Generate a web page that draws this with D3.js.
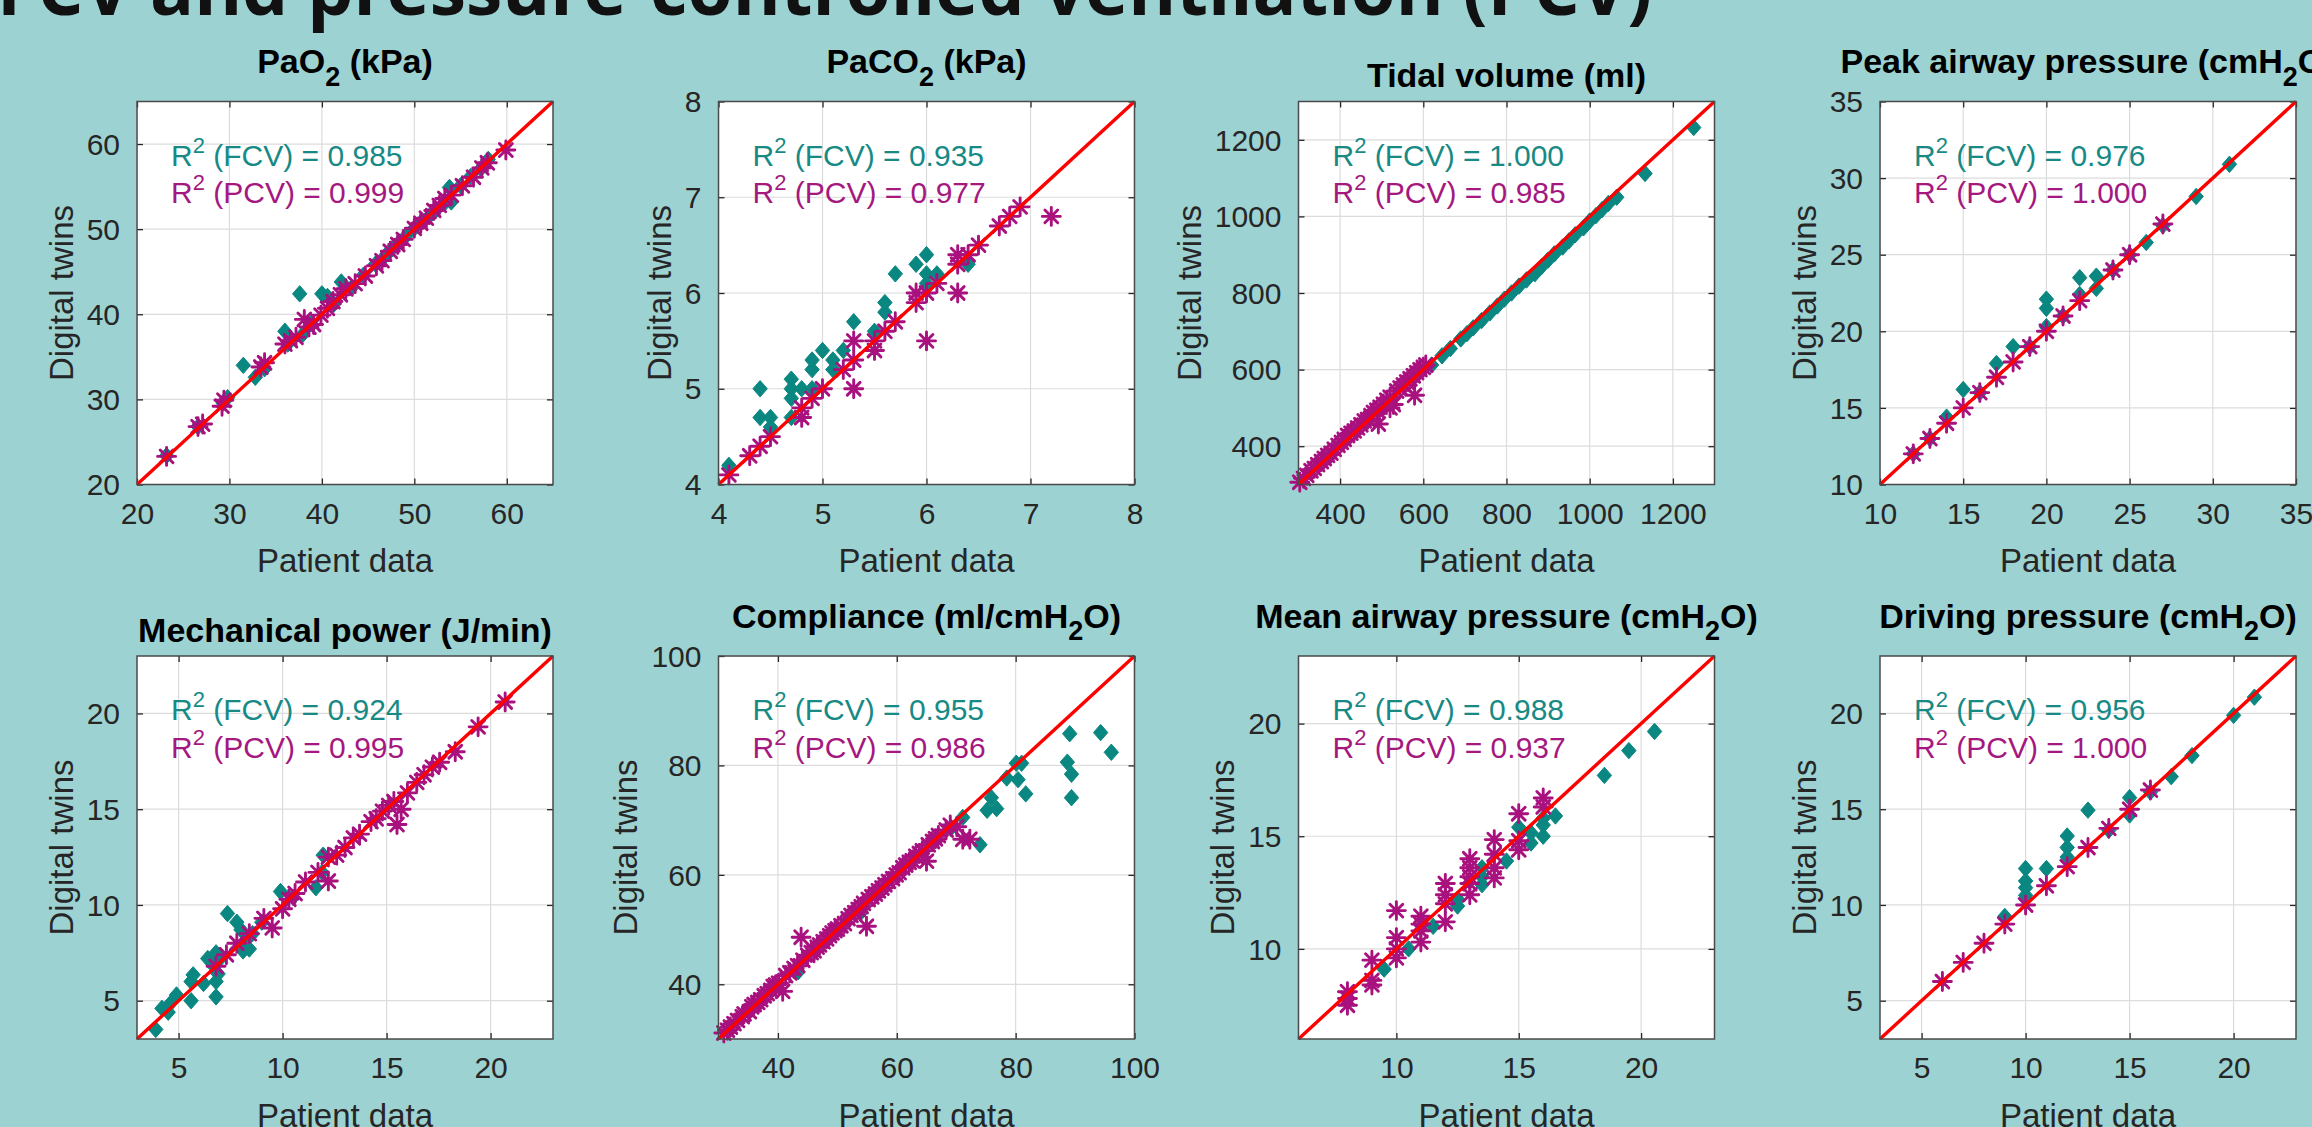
<!DOCTYPE html>
<html>
<head>
<meta charset="utf-8">
<script src="https://cdn.jsdelivr.net/npm/d3@7"></script>
<style>
  html, body { margin: 0; padding: 0; background: #9dd2d3; overflow: hidden; }
  svg { display: block; }
</style>
</head>
<body>
<svg id="fig" width="2312" height="1127"></svg>
<script>
// ---------- panel metadata ----------
// "_2" marks a subscript character in a title
const panelTitles = [
  "PaO_2 (kPa)", "PaCO_2 (kPa)", "Tidal volume (ml)", "Peak airway pressure (cmH_2O)",
  "Mechanical power (J/min)", "Compliance (ml/cmH_2O)", "Mean airway pressure (cmH_2O)", "Driving pressure (cmH_2O)"
];
const axisDomains = [[20, 65], [4, 8], [300, 1300], [10, 35], [3, 23], [30, 100], [6, 23], [3, 23]];
const tickValues = [
  [20, 30, 40, 50, 60], [4, 5, 6, 7, 8], [400, 600, 800, 1000, 1200], [10, 15, 20, 25, 30, 35],
  [5, 10, 15, 20], [40, 60, 80, 100], [10, 15, 20], [5, 10, 15, 20]
];
const r2FCV = ["0.985", "0.935", "1.000", "0.976", "0.924", "0.955", "0.988", "0.956"];
const r2PCV = ["0.999", "0.977", "0.985", "1.000", "0.995", "0.986", "0.937", "1.000"];

// ---------- series: [patient data, digital twin] ----------
const pao2FCV = [[23.2,23.4],[26.6,26.8],[29.3,29.6],[29.8,30.2],[31.5,34.0],[32.8,32.6],[33.8,33.6],[36.0,38.0],[36.3,36.5],[37.6,42.4],[37.9,37.6],[38.8,38.9],[40.0,42.4],[40.6,42.1],[41.3,41.2],[42.1,43.8],[43.2,43.1],[44.5,44.6],[45.8,45.9],[46.8,46.8],[47.6,47.7],[48.4,48.5],[49.2,49.3],[50.0,50.1],[50.8,50.9],[51.6,51.5],[52.4,52.3],[53.3,53.1],[53.8,54.9],[54.0,53.2],[55.0,55.1],[56.1,56.2],[57.2,57.1],[58.0,58.2]];
const pao2PCV = [[23.2,23.3],[26.6,26.8],[27.1,27.1],[29.2,29.2],[29.4,29.9],[33.4,33.8],[33.8,34.3],[36.0,36.5],[36.6,36.9],[37.2,37.3],[38.1,39.4],[38.6,38.5],[39.1,38.8],[39.9,39.9],[40.6,40.7],[41.2,41.5],[42.0,42.3],[42.6,43.0],[43.6,43.6],[44.7,44.5],[45.9,45.7],[46.5,46.3],[47.4,47.4],[48.2,48.2],[48.8,48.8],[50.0,50.1],[50.7,50.7],[51.3,51.3],[52.1,52.2],[52.7,52.8],[53.3,53.6],[54.0,54.0],[55.2,55.1],[56.4,56.1],[57.3,57.2],[57.9,57.8],[59.9,59.3]];

const paco2FCV = [[4.1,4.2],[4.4,5.0],[4.4,4.7],[4.5,4.7],[4.5,4.6],[4.7,4.7],[4.7,5.1],[4.7,5.0],[4.7,4.9],[4.8,5.0],[4.9,5.0],[4.9,5.2],[4.9,5.3],[5.0,5.4],[5.1,5.3],[5.1,5.2],[5.2,5.4],[5.3,5.7],[5.5,5.6],[5.6,5.8],[5.6,5.9],[5.7,6.2],[5.9,6.3],[6.0,6.4],[6.0,6.2],[6.1,6.2],[6.0,6.1],[6.4,6.3]];
const paco2PCV = [[4.1,4.1],[4.3,4.3],[4.4,4.4],[4.5,4.5],[4.8,4.7],[4.8,4.8],[4.9,4.9],[5.0,5.0],[5.2,5.2],[5.3,5.0],[5.3,5.5],[5.3,5.3],[5.5,5.5],[5.5,5.4],[5.6,5.6],[5.7,5.7],[5.9,6.0],[5.9,5.9],[6.0,5.5],[6.0,6.0],[6.1,6.1],[6.3,6.0],[6.3,6.4],[6.3,6.3],[6.4,6.4],[6.5,6.5],[6.7,6.7],[6.8,6.8],[6.9,6.9],[7.2,6.8]];

const tidalFCV = [[620,612],[645,636],[665,655],[690,680],[705,694],[720,709],[740,728],[760,748],[778,766],[795,784],[812,800],[830,818],[848,834],[868,850],[885,870],[900,886],[915,902],[935,920],[950,936],[965,952],[985,970],[1000,988],[1015,1002],[1030,1018],[1045,1034],[1065,1050],[1133,1112],[1250,1232]];
const tidalPCV = [[303,306],[312,316],[320,324],[330,336],[338,342],[346,352],[355,360],[362,368],[370,376],[378,382],[386,392],[395,402],[403,410],[410,418],[418,428],[426,434],[434,440],[442,448],[450,456],[458,466],[466,470],[474,480],[480,488],[488,494],[492,458],[496,502],[504,510],[512,520],[520,500],[520,528],[528,509],[536,544],[544,552],[552,560],[560,568],[568,576],[576,584],[579,533],[584,592],[592,600],[600,606],[606,612]];

const peakFCV = [[12,12],[13,13],[14,14.4],[15,16.2],[16,16],[17,17.9],[18,19.0],[19,19],[20,22.1],[20,21.5],[20,20.3],[21,21],[22,23.5],[22,22.4],[23,23.6],[23,22.8],[24,24],[25,25],[26,25.8],[27,26.9],[29,28.8],[31,30.9]];
const peakPCV = [[12,12],[13,13],[14,14],[15,15],[16,16],[17,17],[18,18],[19,19],[20,20],[21,21],[22,22],[24,24],[25,25],[27,27]];

const powerFCV = [[3.9,3.5],[4.2,4.6],[4.5,4.4],[4.6,4.85],[4.9,5.3],[5.6,5.0],[5.6,6.0],[5.7,6.35],[6.2,5.9],[6.4,7.2],[6.7,6.8],[6.8,5.2],[6.8,6.0],[6.9,6.4],[6.8,7.5],[7.0,7.2],[7.35,9.55],[7.8,9.1],[8.0,8.7],[8.1,7.6],[8.2,8.1],[8.4,7.7],[8.55,8.5],[9.0,9.1],[9.9,10.7],[10.5,10.4],[11.6,10.9],[11.9,11.7],[11.95,12.6]];
const powerPCV = [[6.8,6.8],[7.3,7.4],[7.8,8.0],[8.4,8.5],[9.1,9.3],[9.5,8.8],[10,9.8],[10.3,10.3],[10.6,10.6],[11.1,11.2],[11.7,11.7],[12.2,11.25],[12.2,12.5],[12.6,12.6],[13,13.0],[13.4,13.5],[13.7,13.7],[14.25,14.35],[14.5,14.5],[14.8,14.9],[15.1,15.2],[15.35,15.4],[15.5,14.2],[15.7,15.0],[16,15.85],[16.45,16.4],[16.8,16.8],[17.2,17.2],[17.55,17.45],[18.3,18.0],[19.4,19.3],[20.7,20.6]];

const complianceFCV = [[43.4,42.3],[54.0,53.2],[66,66],[69.1,68.5],[71.1,70.5],[74,65.5],[75.2,71.8],[75.9,74.1],[76.8,72.1],[78.5,77.7],[80.1,80.4],[80.4,77.4],[81,80.4],[81.7,74.8],[88.7,80.6],[89.1,85.8],[89.4,78.4],[89.4,74.1],[94.3,86.0],[96.1,82.4]];
const compliancePCV = [[30.9,31.1],[31.5,31.6],[32.0,32.2],[32.6,32.8],[33.2,33.4],[34.0,34.1],[34.3,34.6],[35.2,35.0],[35.6,35.9],[36.0,36.3],[36.6,36.7],[37.1,37.2],[37.7,37.9],[38.2,38.3],[38.8,38.9],[39.2,39.6],[39.6,39.9],[40.1,40.2],[40.8,38.7],[41.3,41.6],[42.0,42.1],[42.7,42.9],[43.3,43.4],[43.9,48.6],[44.2,44.4],[45.0,45.3],[45.6,45.8],[46.1,46.1],[46.6,46.8],[47.0,47.2],[47.6,47.8],[48.2,48.3],[48.7,48.9],[49.1,49.4],[49.6,49.8],[50.0,50.1],[50.6,50.7],[51.2,51.1],[51.8,52.0],[52.3,52.6],[52.9,53.1],[53.5,53.7],[54.0,54.2],[54.4,54.8],[54.9,50.6],[55.2,55.5],[55.8,56.0],[56.4,56.5],[56.9,57.1],[57.5,57.6],[58.0,58.2],[58.6,58.8],[59.3,59.3],[59.9,60.0],[60.4,60.4],[61.0,61.3],[61.5,61.8],[62.1,62.3],[62.6,62.6],[63.2,63.4],[63.8,63.9],[64.3,64.4],[65.0,62.5],[65.3,65.5],[66.0,66.1],[66.5,66.6],[67.0,67.2],[68.3,68.2],[69.0,69.1],[70.1,68.8],[71.1,66.5],[72.3,66.5]];

const meanPawFCV = [[9.5,9.1],[10.5,10.0],[11.5,11.0],[12.5,11.9],[12.5,12.2],[13.5,12.85],[13.5,13.2],[13.5,13.6],[14.5,13.9],[15,15.4],[15.5,14.7],[15.5,15.15],[16,15.0],[16,15.5],[16,15.8],[16.5,15.9],[18.5,17.7],[19.5,18.8],[20.55,19.65]];
const meanPawPCV = [[8,8.1],[8,7.5],[8,7.8],[9,9.5],[9,8.6],[9,8.4],[10,11.7],[10,10.5],[10,10.0],[10,9.6],[11,11.45],[11,10.8],[11,10.3],[11,11.1],[12,12.9],[12,12.0],[12,11.2],[12,12.4],[13,14.0],[13,13.6],[13,12.4],[13,12.9],[13,13.2],[14,14.85],[14,14.2],[14,13.15],[14,13.6],[15,16.0],[15,14.8],[15,14.4],[16,16.7],[16,16.3]];

const drivingFCV = [[9,9.4],[10,11.9],[10,11.25],[10,10.9],[10,10.5],[11,11.9],[12,13.6],[12,13.0],[12,12.5],[13,14.95],[14,13.9],[15,15.6],[15,14.7],[16,15.9],[17,16.7],[18,17.8],[20,19.9],[21,20.85]];
const drivingPCV = [[6,6],[7,7],[8,8],[9,9],[10,10],[11,11],[12,12],[13,13],[14,14],[15,15],[16,16]];

const seriesFCV = [pao2FCV, paco2FCV, tidalFCV, peakFCV, powerFCV, complianceFCV, meanPawFCV, drivingFCV];
const seriesPCV = [pao2PCV, paco2PCV, tidalPCV, peakPCV, powerPCV, compliancePCV, meanPawPCV, drivingPCV];

// ---------- layout & style ----------
const colLeft = [137, 718.5, 1298.5, 1880];
const rowTop = [101.5, 656];
const boxW = 416, boxH = 383;
const FONT = "'Liberation Sans', Arial, Helvetica, sans-serif";
const colFCV = "#0b8782";
const colPCV = "#a8117e";
const textFCV = "#178a85";
const textPCV = "#a5187f";
const axisGray = "#262626";

const svg = d3.select("#fig");

// slide heading (only its lower part lies inside the frame)
svg.append("text")
  .attr("x", 1652).attr("y", 15)
  .attr("text-anchor", "end")
  .attr("font-family", "'Open Sans', 'Liberation Sans', sans-serif")
  .attr("font-weight", 700)
  .attr("font-size", 73)
  .attr("fill", "#111")
  .text("FCV and pressure-controlled ventilation (PCV)");

// title with subscripts written as "_2"
function appendRichTitle(sel, str, subDy, subSize) {
  const parts = str.split(/_(\w)/);
  let shift = 0;
  parts.forEach((p, i) => {
    if (p === "") return;
    if (i % 2 === 1) {
      sel.append("tspan").attr("font-size", subSize).attr("dy", subDy - shift).text(p);
      shift = subDy;
    } else {
      sel.append("tspan").attr("dy", -shift).text(p);
      shift = 0;
    }
  });
}

const diamond = (w, h) => `M0,${-h}L${w},0L0,${h}L${-w},0Z`;
const asteriskPath = (a, b) => `M${-a},0H${a}M0,${-a}V${a}M${-b},${-b}L${b},${b}M${-b},${b}L${b},${-b}`;

panelTitles.forEach((title, i) => {
  const x0 = colLeft[i % 4], y0 = rowTop[Math.floor(i / 4)];
  const dom = axisDomains[i], ticks = tickValues[i];
  const g = svg.append("g").attr("transform", `translate(${x0},${y0})`);

  const x = d3.scaleLinear().domain(dom).range([0, boxW]);
  const y = d3.scaleLinear().domain(dom).range([boxH, 0]);

  // plot background
  g.append("rect").attr("width", boxW).attr("height", boxH).attr("fill", "#fff");

  // grid
  const grid = g.append("g").attr("stroke", "#dcdcdc").attr("stroke-width", 1.2);
  ticks.forEach(t => {
    grid.append("line").attr("x1", x(t)).attr("x2", x(t)).attr("y1", 0).attr("y2", boxH);
    grid.append("line").attr("y1", y(t)).attr("y2", y(t)).attr("x1", 0).attr("x2", boxW);
  });

  // axes (inward ticks, no domain path; box drawn separately)
  const tickLen = 6;
  const fmt = d3.format("d");
  const xAxis = g.append("g").attr("transform", `translate(0,${boxH})`)
    .call(d3.axisBottom(x).tickValues(ticks).tickFormat(fmt).tickSizeInner(-tickLen).tickSizeOuter(0).tickPadding(18));
  const xTop = g.append("g")
    .call(d3.axisTop(x).tickValues(ticks).tickFormat("").tickSizeInner(-tickLen).tickSizeOuter(0));
  const yAxis = g.append("g")
    .call(d3.axisLeft(y).tickValues(ticks).tickFormat(fmt).tickSizeInner(-tickLen).tickSizeOuter(0).tickPadding(17));
  const yRight = g.append("g").attr("transform", `translate(${boxW},0)`)
    .call(d3.axisRight(y).tickValues(ticks).tickFormat("").tickSizeInner(-tickLen).tickSizeOuter(0));
  [xAxis, xTop, yAxis, yRight].forEach(a => {
    a.select(".domain").remove();
    a.selectAll(".tick line").attr("stroke", axisGray).attr("stroke-width", 1.3);
    a.selectAll(".tick text").attr("font-family", FONT).attr("font-size", 30).attr("fill", axisGray);
  });
  xAxis.selectAll(".tick text").attr("dy", "0.71em");
  yAxis.selectAll(".tick text").attr("dy", "0.34em");

  // markers: FCV diamonds then PCV asterisks
  g.append("g").selectAll("path").data(seriesFCV[i]).join("path")
    .attr("d", diamond(7.2, 8.2))
    .attr("transform", d => `translate(${x(d[0])},${y(d[1])})`)
    .attr("fill", colFCV).attr("stroke", colFCV).attr("stroke-width", 1);
  g.append("g").selectAll("path").data(seriesPCV[i]).join("path")
    .attr("d", asteriskPath(9, 6.4))
    .attr("transform", d => `translate(${x(d[0])},${y(d[1])})`)
    .attr("fill", "none").attr("stroke", colPCV).attr("stroke-width", 2.9).attr("stroke-linecap", "round");

  // identity line
  g.append("line")
    .attr("x1", x(dom[0])).attr("y1", y(dom[0]))
    .attr("x2", x(dom[1])).attr("y2", y(dom[1]))
    .attr("stroke", "#ff0000").attr("stroke-width", 3.4);

  // box
  g.append("rect").attr("width", boxW).attr("height", boxH)
    .attr("fill", "none").attr("stroke", "#4a4a4a").attr("stroke-width", 1.5);

  // R² annotations
  const ann = [[r2FCV[i], "FCV", textFCV, 64], [r2PCV[i], "PCV", textPCV, 101.5]];
  ann.forEach(([val, lbl, col, dy]) => {
    const t = g.append("text").attr("x", 34).attr("y", dy)
      .attr("font-family", FONT).attr("font-size", 30).attr("fill", col);
    t.append("tspan").text("R");
    t.append("tspan").attr("font-size", 22).attr("dy", -13).text("2");
    t.append("tspan").attr("dy", 13).text(` (${lbl}) = ${val}`);
  });

  // title
  const hasSub = /_/.test(title);
  const tt = g.append("text")
    .attr("x", boxW / 2).attr("y", hasSub ? -28.5 : -14.5)
    .attr("text-anchor", "middle")
    .attr("font-family", FONT).attr("font-weight", 700).attr("font-size", 34).attr("fill", "#000");
  appendRichTitle(tt, title, 12.5, 27);

  // axis labels
  g.append("text").attr("x", boxW / 2).attr("y", boxH + 87.5)
    .attr("text-anchor", "middle").attr("font-family", FONT).attr("font-size", 33).attr("fill", axisGray)
    .text("Patient data");

  let maxW = 0;
  yAxis.selectAll(".tick text").each(function () { maxW = Math.max(maxW, this.getComputedTextLength()); });
  const labelX = -(17 + maxW + 14);
  g.append("text")
    .attr("transform", `translate(${labelX},${boxH / 2}) rotate(-90)`)
    .attr("text-anchor", "middle").attr("font-family", FONT).attr("font-size", 33).attr("fill", axisGray)
    .text("Digital twins");
});
</script>
</body>
</html>
